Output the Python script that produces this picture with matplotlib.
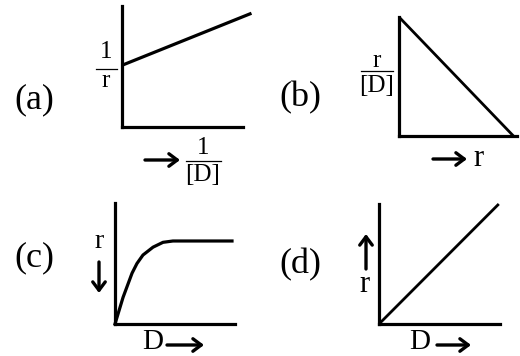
import matplotlib
matplotlib.use("Agg")
import matplotlib.pyplot as plt
from matplotlib.lines import Line2D

# ---- data (schematic curves, in each panel's own axis units 0..1) ----
panel_labels = ["(a)", "(b)", "(c)", "(d)"]
a_x = [0.0, 1.07]
a_y = [0.51, 0.94]
b_x = [0.0, 0.97]
b_y = [1.0, 0.0]
c_x = [0.0, 0.067, 0.142, 0.183, 0.233, 0.317, 0.40, 0.483, 0.975]
c_y = [0.0, 0.22, 0.42, 0.50, 0.57, 0.635, 0.675, 0.686, 0.686]
d_x = [0.0, 0.99]
d_y = [0.0, 1.0]

W, H = 520, 356
FONT = "Liberation Serif"
fig = plt.figure(figsize=(W / 100, H / 100), dpi=100)
fig.patch.set_facecolor("white")


def fx(x):
    return x / W


def fy(y):
    return 1 - y / H


def panel(x0, x1, y0, y1):
    ax = fig.add_axes([fx(x0), fy(y1), (x1 - x0) / W, (y1 - y0) / H])
    ax.set_xlim(0, 1)
    ax.set_ylim(0, 1)
    for s in ("top", "right"):
        ax.spines[s].set_visible(False)
    for s in ("left", "bottom"):
        ax.spines[s].set_linewidth(2.3)
        ax.spines[s].set_capstyle("projecting")
    ax.set_xticks([])
    ax.set_yticks([])
    ax.patch.set_alpha(0)
    return ax


def txt(x, y, s, size):
    fig.text(fx(x), fy(y), s, fontsize=size, family=FONT,
             ha="center", va="center", color="black")


def frac(x, y_num, y_bar, y_den, num, den, half, size):
    txt(x, y_num, num, size)
    txt(x, y_den, den, size)
    fig.add_artist(Line2D([fx(x - half), fx(x + half)], [fy(y_bar), fy(y_bar)],
                          color="black", lw=0.9, transform=fig.transFigure))


def arrow(x0, y0, x1, y1):
    fig.add_artist(matplotlib.patches.FancyArrowPatch(
        (fx(x0), fy(y0)), (fx(x1), fy(y1)), transform=fig.transFigure,
        arrowstyle="->,head_length=6,head_width=4.5", lw=2.4,
        color="black", shrinkA=0, shrinkB=0, mutation_scale=1))


# (a)
ax = panel(122, 243, 6, 127)
ax.plot(a_x, a_y, color="black", lw=2.3, clip_on=False, solid_capstyle="butt")
txt(34, 100, panel_labels[0], 26)
frac(106, 52, 69, 81, "1", "r", 10.5, 18)
arrow(145, 160, 180, 160)
frac(203, 148, 161, 175, "1", "[D]", 17.5, 18)

# (b)
ax = panel(399, 517, 17, 136)
ax.plot(b_x, b_y, color="black", lw=2.0, clip_on=False, solid_capstyle="butt")
txt(300, 98, panel_labels[1], 26)
frac(377, 61, 71, 86, "r", "[D]", 16, 18)
arrow(433, 159, 467, 159)
txt(478, 158, "r", 22)

# (c)
ax = panel(115, 235, 203, 324)
ax.plot(c_x, c_y, color="black", lw=2.3, clip_on=False, solid_joinstyle="round")
txt(34, 258, panel_labels[2], 26)
txt(99, 242, "r", 20)
arrow(99, 262, 99, 293)
txt(153, 342, "D", 21)
arrow(167, 345, 204, 345)

# (d)
ax = panel(379, 500, 204, 324)
ax.plot(d_x, d_y, color="black", lw=2.0, clip_on=False, solid_capstyle="butt")
txt(300, 265, panel_labels[3], 26)
arrow(366, 269, 366, 234)
txt(364, 285, "r", 22)
txt(420, 342, "D", 21)
arrow(437, 345, 471, 345)

fig.savefig("out.png", dpi=100, facecolor="white")
